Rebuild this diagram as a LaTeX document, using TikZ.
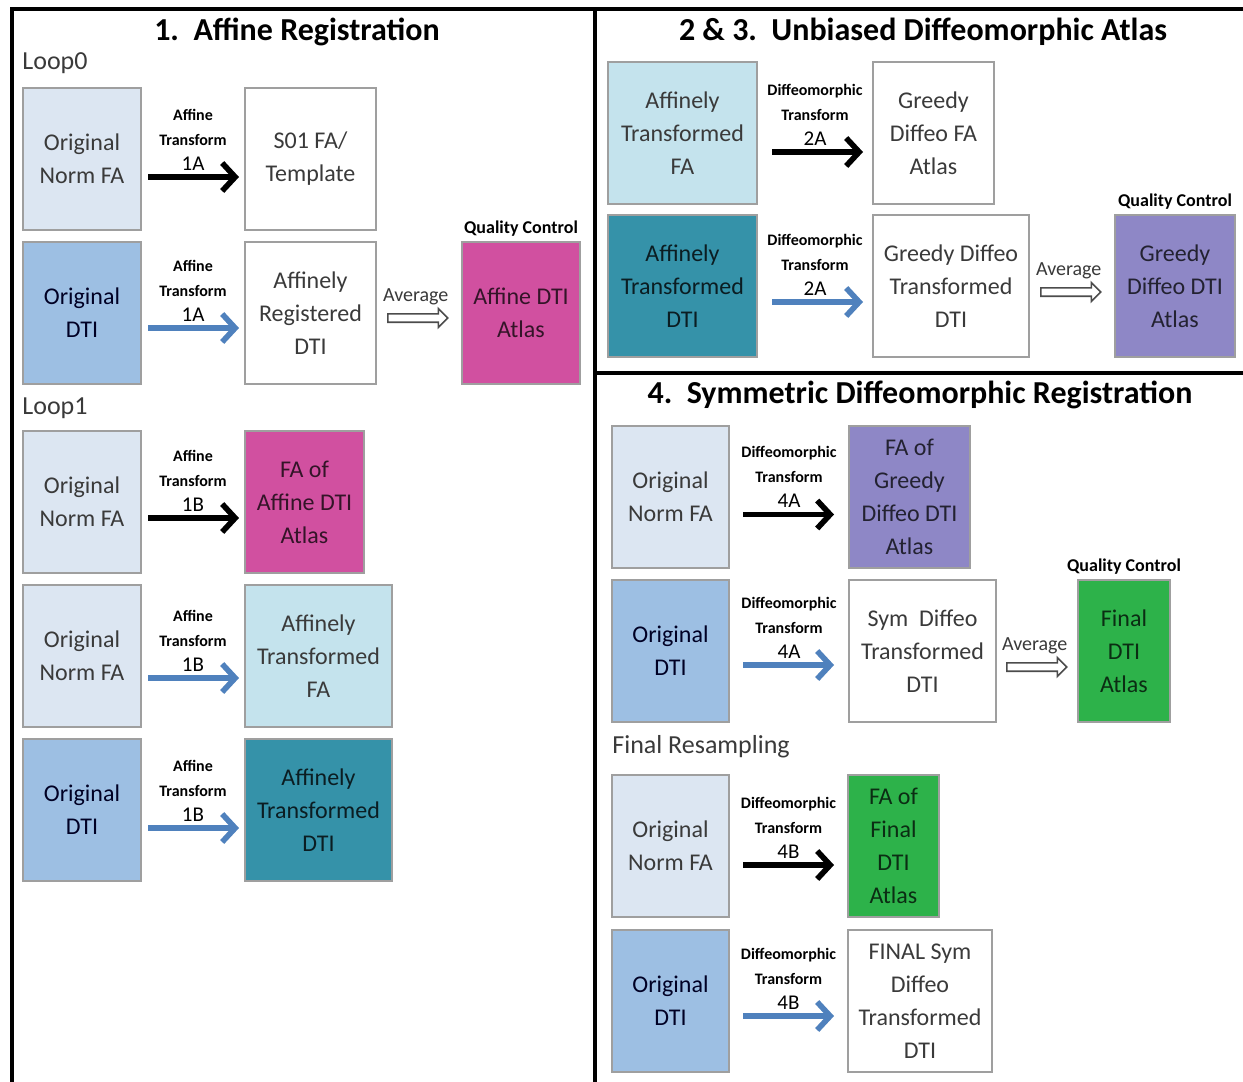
\documentclass[tikz,border=0pt]{standalone}
\usepackage{fontspec}
\setmainfont{Carlito}
\usetikzlibrary{positioning,arrows.meta,shapes.arrows}

\definecolor{palefill}{HTML}{DCE6F2}
\definecolor{dtifill}{HTML}{9DBFE3}
\definecolor{pinkfill}{HTML}{D150A0}
\definecolor{cyanfill}{HTML}{C4E3ED}
\definecolor{tealfill}{HTML}{3592A9}
\definecolor{purplefill}{HTML}{8E87C6}
\definecolor{greenfill}{HTML}{2DB24A}
\definecolor{arrowblue}{HTML}{4F81BD}
\definecolor{boxtext}{HTML}{3A3A3A}

\newcommand\tsmall{\fontsize{8}{9}\selectfont\bfseries}

\tikzset{
  imgbox/.style={draw=gray!75, line width=1pt, align=center, minimum height=71pt,
    inner sep=2pt, text=boxtext, font=\fontsize{12}{16.5}\selectfont},
  normfa/.style={imgbox, fill=palefill},
  dtibox/.style={imgbox, fill=dtifill, text=black!65!blue!40!black},
  whitebox/.style={imgbox, fill=white},
  pinkbox/.style={imgbox, fill=pinkfill, text=black!75!pinkfill},
  cyanbox/.style={imgbox, fill=cyanfill},
  tealbox/.style={imgbox, fill=tealfill, text=black!80!tealfill},
  purplebox/.style={imgbox, fill=purplefill, text=black!75!purplefill},
  greenbox/.style={imgbox, fill=greenfill, text=black!75!greenfill},
  fwd/.style={line width=2.8pt, shorten <=3pt, shorten >=2.5pt,
    -{Straight Barb[length=6.5pt,width=14pt]}},
  fwdblue/.style={fwd, draw=arrowblue},
  avgarrow/.style={single arrow, draw=gray!60!black, fill=white, line width=0.8pt,
    minimum height=30pt, minimum width=9pt, single arrow head extend=2.6pt,
    inner sep=1.7pt, anchor=west},
  tlbl/.style={midway, above=1pt, align=center, inner sep=1pt,
    font=\fontsize{10.5}{12.5}\selectfont},
  avglbl/.style={above=3pt of #1, inner sep=1pt, text=boxtext,
    font=\fontsize{10}{12}\selectfont},
  qc/.style={above=1pt of #1, inner sep=1pt, font=\fontsize{9}{10}\selectfont\bfseries},
  title/.style={font=\fontsize{16}{19}\selectfont\bfseries, inner sep=1pt},
  section/.style={anchor=west, text=boxtext, inner sep=1pt, font=\fontsize{13}{15}\selectfont},
  frame/.style={line width=2pt, black}
}

\begin{document}
\begin{tikzpicture}[x=0.5pt, y=-0.5pt]
\useasboundingbox (0,0) rectangle (1243,1082);
\fill[white] (0,0) rectangle (1243,1082);

\draw[frame] (12,1082) -- (12,9) -- (1243,9);
\draw[frame] (595,9) -- (595,1082);
\draw[frame] (595,373) -- (1243,373);

% 1. Affine Registration
\node[title] (titleA) at (297,32) {1.~~Affine Registration};
\node[section] (loop0) at (20,63) {Loop0};
\node[normfa, minimum width=59pt] (onfaA) at (82,159) {Original\\Norm FA};
\node[whitebox, minimum width=65.5pt, right=51pt of onfaA] (tmpl) {S01 FA/\\Template};
\node[dtibox, minimum width=59pt] (odtiA) at (82,313) {Original\\DTI};
\node[whitebox, minimum width=65.5pt, right=51pt of odtiA] (regdti) {Affinely\\Registered\\DTI};
\node[pinkbox, minimum width=59pt, right=42pt of regdti] (affatlas) {Affine DTI\\Atlas};
\node[qc=affatlas] (qcA) {Quality Control};

\node[section] (loop1) at (20,408) {Loop1};
\node[normfa, minimum width=59pt] (onfaB) at (82,502) {Original\\Norm FA};
\node[pinkbox, minimum width=59.5pt, right=51pt of onfaB] (faaff) {FA of\\Affine DTI\\Atlas};
\node[normfa, minimum width=59pt] (onfaC) at (82,656) {Original\\Norm FA};
\node[cyanbox, minimum width=73.5pt, right=51pt of onfaC] (atfaA) {Affinely\\Transformed\\FA};
\node[dtibox, minimum width=59pt] (odtiB) at (82,810) {Original\\DTI};
\node[tealbox, minimum width=73.5pt, right=51pt of odtiB] (atdtiA) {Affinely\\Transformed\\DTI};

\draw[fwd] ([yshift=-9pt]onfaA.east) -- ([yshift=-9pt]tmpl.west)
  node[tlbl] {{\tsmall Affine}\\{\tsmall Transform}\\1A};
\draw[fwdblue] ([yshift=-7.5pt]odtiA.east) -- ([yshift=-7.5pt]regdti.west)
  node[tlbl] {{\tsmall Affine}\\{\tsmall Transform}\\1A};
\node[avgarrow, right=5pt of regdti.east, yshift=-2.5pt] (avgA) {};
\node[avglbl=avgA] {Average};
\draw[fwd] ([yshift=-8pt]onfaB.east) -- ([yshift=-8pt]faaff.west)
  node[tlbl] {{\tsmall Affine}\\{\tsmall Transform}\\1B};
\draw[fwdblue] ([yshift=-11pt]onfaC.east) -- ([yshift=-11pt]atfaA.west)
  node[tlbl] {{\tsmall Affine}\\{\tsmall Transform}\\1B};
\draw[fwdblue] ([yshift=-9pt]odtiB.east) -- ([yshift=-9pt]atdtiA.west)
  node[tlbl] {{\tsmall Affine}\\{\tsmall Transform}\\1B};

% 2 & 3. Unbiased Diffeomorphic Atlas
\node[title] (titleB) at (923,32) {2 \& 3.~~Unbiased Diffeomorphic Atlas};
\node[cyanbox, minimum width=74.5pt] (atfaB) at (682.5,133) {Affinely\\Transformed\\FA};
\node[whitebox, minimum width=60.5pt, right=57pt of atfaB] (gdfa) {Greedy\\Diffeo FA\\Atlas};
\node[tealbox, minimum width=74.5pt] (atdtiB) at (682.5,286) {Affinely\\Transformed\\DTI};
\node[whitebox, minimum width=78pt, right=57pt of atdtiB] (gddti) {Greedy Diffeo\\Transformed\\DTI};
\node[purplebox, minimum width=60pt, right=42pt of gddti] (gdatlas) {Greedy\\Diffeo DTI\\Atlas};
\node[qc=gdatlas] (qcB) {Quality Control};

\draw[fwd, shorten <=7pt, shorten >=4.5pt] ([yshift=-9.5pt]atfaB.east) -- ([yshift=-9.5pt]gdfa.west)
  node[tlbl] {{\tsmall Diffeomorphic}\\{\tsmall Transform}\\2A};
\draw[fwdblue, shorten <=7pt, shorten >=4.5pt] ([yshift=-8pt]atdtiB.east) -- ([yshift=-8pt]gddti.west)
  node[tlbl] {{\tsmall Diffeomorphic}\\{\tsmall Transform}\\2A};
\node[avgarrow, right=5pt of gddti.east, yshift=-3pt] (avgB) {};
\node[avglbl=avgB] {Average};

% 4. Symmetric Diffeomorphic Registration
\node[title] (titleC) at (920,395) {4.~~Symmetric Diffeomorphic Registration};
\node[normfa, minimum width=58.5pt] (onfaD) at (670.5,496.5) {Original\\Norm FA};
\node[purplebox, minimum width=60.5pt, right=59pt of onfaD] (fagd) {FA of\\Greedy\\Diffeo DTI\\Atlas};
\node[dtibox, minimum width=58.5pt] (odtiC) at (670.5,651) {Original\\DTI};
\node[whitebox, minimum width=73.5pt, right=59pt of odtiC] (symdti) {Sym~~Diffeo\\Transformed\\DTI};
\node[greenbox, minimum width=46pt, right=40pt of symdti] (finalatlas) {Final\\DTI\\Atlas};
\node[qc=finalatlas] (qcC) {Quality Control};

\node[section] (resamp) at (610,747) {Final Resampling};
\node[normfa, minimum width=58.5pt] (onfaE) at (670.5,846) {Original\\Norm FA};
\node[greenbox, minimum width=45.5pt, right=58.5pt of onfaE] (fafinal) {FA of\\Final\\DTI\\Atlas};
\node[dtibox, minimum width=58.5pt] (odtiD) at (670.5,1001) {Original\\DTI};
\node[whitebox, minimum width=72pt, right=58.5pt of odtiD] (finalsym) {FINAL Sym\\Diffeo\\Transformed\\DTI};

\draw[fwd, shorten <=6.5pt, shorten >=7pt] ([yshift=-9pt]onfaD.east) -- ([yshift=-9pt]fagd.west)
  node[tlbl] {{\tsmall Diffeomorphic}\\{\tsmall Transform}\\4A};
\draw[fwdblue, shorten <=6.5pt, shorten >=7pt] ([yshift=-7pt]odtiC.east) -- ([yshift=-7pt]symdti.west)
  node[tlbl] {{\tsmall Diffeomorphic}\\{\tsmall Transform}\\4A};
\node[avgarrow, right=4.5pt of symdti.east, yshift=-8pt] (avgC) {};
\node[avglbl=avgC] {Average};
\draw[fwd, shorten <=6.5pt, shorten >=6.5pt] ([yshift=-9.5pt]onfaE.east) -- ([yshift=-9.5pt]fafinal.west)
  node[tlbl] {{\tsmall Diffeomorphic}\\{\tsmall Transform}\\4B};
\draw[fwdblue, shorten <=6.5pt, shorten >=6.5pt] ([yshift=-7.5pt]odtiD.east) -- ([yshift=-7.5pt]finalsym.west)
  node[tlbl] {{\tsmall Diffeomorphic}\\{\tsmall Transform}\\4B};
\end{tikzpicture}
\end{document}
